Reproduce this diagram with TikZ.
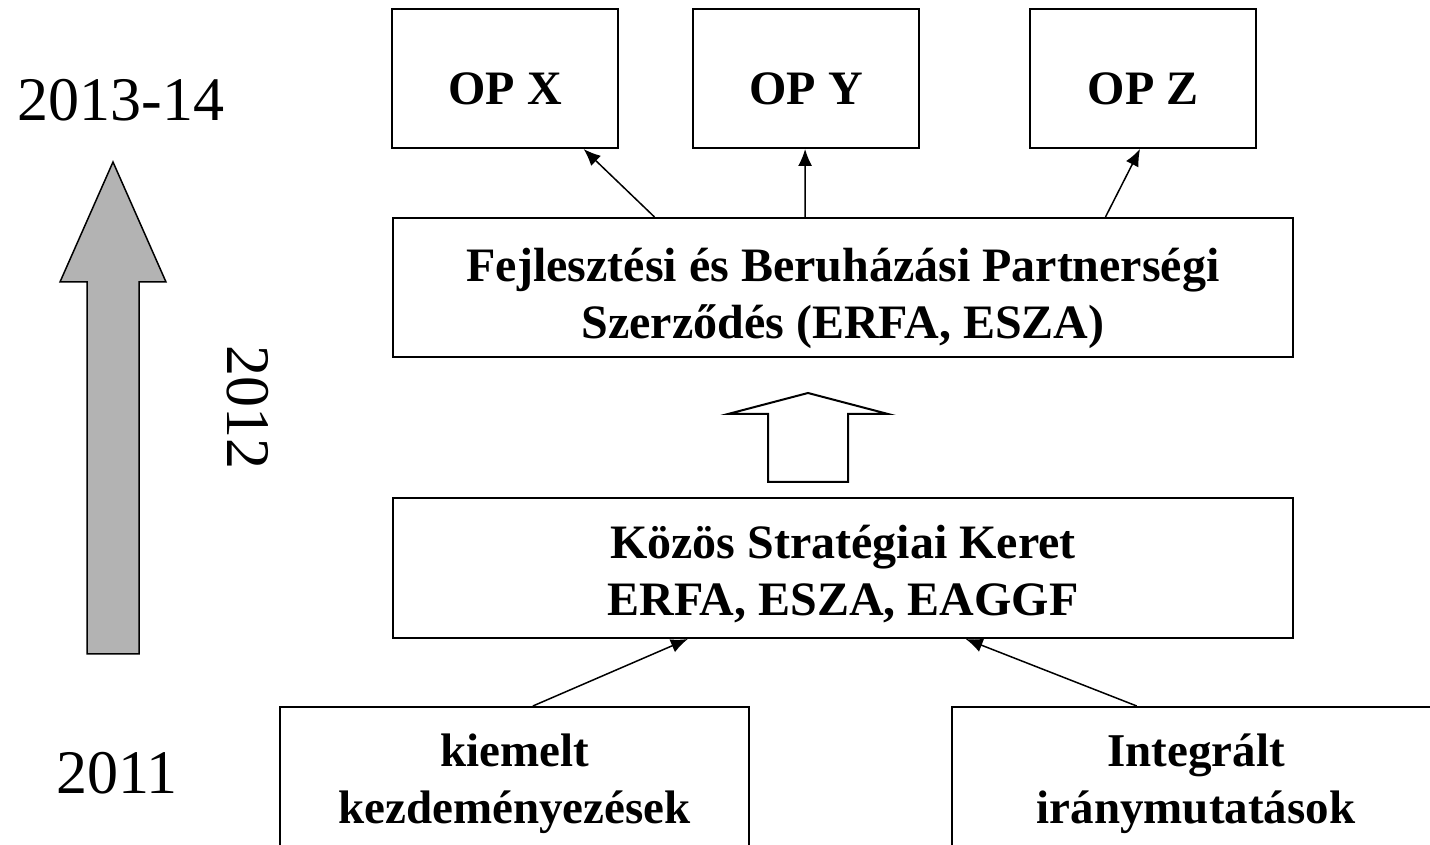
\documentclass[tikz,border=0pt]{standalone}
\usepackage{fontspec}
\setmainfont{Liberation Serif}
\usetikzlibrary{arrows.meta,calc}
\definecolor{arrowgray}{RGB}{179,179,179}
\tikzset{
  box/.style={draw=black, line width=2pt, rectangle, inner sep=0pt},
  boxtext/.style={inner sep=0pt, align=center, anchor=base,
    font=\fontsize{48}{57}\selectfont\bfseries},
  lowtext/.style={inner sep=0pt, align=center, anchor=base,
    font=\fontsize{47}{57}\selectfont\bfseries},
  conn/.style={line width=1.5pt, -{Latex[length=17pt,width=14pt]}},
  year/.style={font=\fontsize{62}{70}\selectfont, inner sep=0pt},
}
\begin{document}
\begin{tikzpicture}[x=1pt,y=1pt]
\useasboundingbox (0,0) rectangle (1430,844);
\clip (0,0) rectangle (1430,844);
% OP boxes
\node[box, minimum width=226pt, minimum height=139pt] (opx) at (505,765.5) {};
\node[box, minimum width=226pt, minimum height=139pt] (opy) at (806,765.5) {};
\node[box, minimum width=226pt, minimum height=139pt] (opz) at (1143,765.5) {};
\node[boxtext] (opxt) at (505,739) {OP X};
\node[boxtext] (opyt) at (806,739) {OP Y};
\node[boxtext] (opzt) at (1143,739) {OP Z};
% main boxes
\node[box, minimum width=900pt, minimum height=139pt] (fejl) at (843,556.5) {};
\node[boxtext] (fejlt) at (843,505)
  {Fejlesztési és Beruházási Partnerségi\\Szerződés (ERFA, ESZA)};
\node[box, minimum width=900pt, minimum height=140pt] (kozos) at (843,276) {};
\node[boxtext] (kozost) at (843,228)
  {Közös Stratégiai Keret\\ERFA, ESZA, EAGGF};
\node[box, minimum width=469pt, minimum height=144pt] (kiem) at (514.5,65) {};
\node[lowtext] (kiemt) at (514.5,21) {kiemelt\\kezdeményezések};
\node[box, minimum width=488pt, minimum height=144pt] (integr) at (1196,65) {};
\node[lowtext] (integrt) at (1196,21) {Integrált\\iránymutatások};
% connectors
\draw[conn] ($(fejl.north west)!0.291!(fejl.north east)$) -- ($(opx.south west)!0.845!(opx.south east)$);
\draw[conn] ($(fejl.north west)!0.458!(fejl.north east)$) -- ($(opy.south west)!0.496!(opy.south east)$);
\draw[conn] ($(fejl.north west)!0.791!(fejl.north east)$) -- ($(opz.south west)!0.487!(opz.south east)$);
\draw[conn] ($(kiem.north west)!0.539!(kiem.north east)$) -- ($(kozos.south west)!0.328!(kozos.south east)$);
\draw[conn] ($(integr.north west)!0.379!(integr.north east)$) -- ($(kozos.south west)!0.636!(kozos.south east)$);
% hollow arrow between boxes
\draw[line width=2pt, line join=miter, fill=white]
  (808,451) -- (888,430) -- (848,430) -- (848,362) -- (768,362) -- (768,430) -- (728,430) -- cycle;
% gray time arrow
\draw[line width=1.5pt, fill=arrowgray, line join=miter]
  (113,682) -- (166,562) -- (139,562) -- (139,190) -- (87,190) -- (87,562) -- (60,562) -- cycle;
% year labels
\node[year] (y1314) at (121,744) {2013-14};
\node[year] (y2011) at (117,71) {2011};
\node[year, rotate=-90] (y2012) at (248,436) {2012};
\end{tikzpicture}
\end{document}
